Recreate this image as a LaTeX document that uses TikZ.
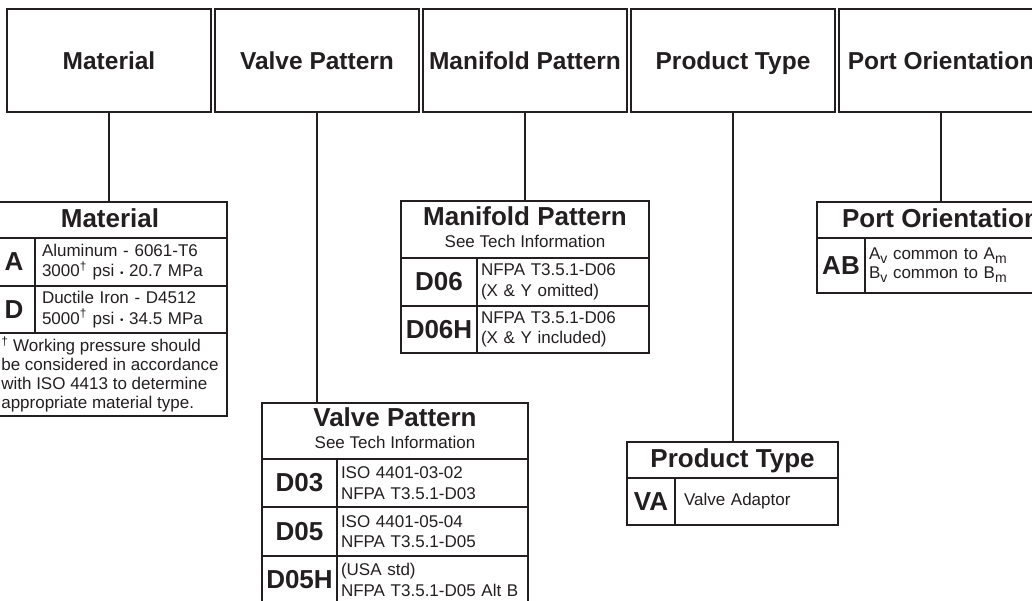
\documentclass[tikz,border=0pt]{standalone}
\usepackage{fontspec}
\setmainfont{Liberation Sans}
\usetikzlibrary{positioning}
\usetikzlibrary{fit}
\definecolor{ink}{HTML}{231F20}
\newcommand{\psidot}{{\fontsize{10}{10}\selectfont\raisebox{0.6pt}{•}}}
\newcommand{\subline}[1]{{\normalfont\fontsize{17}{20}\selectfont #1}}
\newcommand{\portsub}[1]{\raisebox{-4pt}{\fontsize{14}{14}\selectfont #1}}
\tikzset{
	x=1pt, y=-1pt,
	every node/.append style={align=center, text=ink, outer sep=0pt},
	topbox/.style={draw=ink,
		    line width=2.5pt,
		    minimum width=204pt,
		    minimum height=103pt,
		    inner sep=0pt,
		    text height=18pt,
		    text depth=0pt,
		    font=\fontsize{24.5}{29}\selectfont\bfseries},
	subheadcell/.style={draw=ink,
		    line width=2.5pt,
		    minimum height=36pt,
		    inner sep=0pt,
		    font=\fontsize{26}{30}\selectfont\bfseries},
	headcell/.style={subheadcell, text height=19pt, text depth=5pt},
	tablecell/.style={draw=ink, line width=1.3pt, minimum height=48pt, inner sep=0pt},
	codecell/.style={tablecell, font=\fontsize{26}{30}\selectfont\bfseries},
	desccell/.style={tablecell, align=left, inner xsep=4pt, font=\fontsize{17}{20.5}\selectfont},
	tableframe/.style={draw=ink, line width=2.5pt, inner sep=0pt},
	stem/.style={draw=ink, line width=2pt}
}
\begin{document}
\begin{tikzpicture}

	\useasboundingbox (0,0) rectangle (1032,600);
	\clip (0,0) rectangle (1032,600);

	\node [topbox] (matTop) at (109,60.5) {Material};
	\node [topbox, right=4pt of matTop] (vpTop) {Valve Pattern};
	\node [topbox, right=4pt of vpTop] (mpTop) {Manifold Pattern};
	\node [topbox, right=4pt of mpTop] (ptTop) {Product Type};
	\node [topbox, right=4pt of ptTop] (poTop) {Port Orientation};

	\node [headcell, minimum width=234pt] (matHead) at (110,220) {Material};
	\node [codecell, minimum width=42pt, below right=0pt of matHead.south west] (matA) {A};
	\node [desccell, text width=178pt, inner xsep=7pt, right=0pt of matA] (matADesc) {Aluminum - 6061-T6\\3000\textsuperscript{†} psi \psidot{} 20.7 MPa};
	\node [codecell, minimum width=42pt, minimum height=47pt, below=0pt of matA] (matD) {D};
	\node [desccell, text width=178pt, inner xsep=7pt, minimum height=47pt, right=0pt of matD] (matDDesc) {Ductile Iron - D4512\\5000\textsuperscript{†} psi \psidot{} 34.5 MPa};
	\node [tablecell, align=left, minimum width=234pt, minimum height=83pt, font=\fontsize{17}{18.8}\selectfont, below right=0pt of matD.south west] (matNote) {\textsuperscript{†} Working pressure should\\be considered in accordance\\with ISO 4413 to determine\\appropriate material type.};
	\node [tableframe, fit=(matHead)(matNote)] (matFrame) {};

	\node [subheadcell, minimum width=266pt, minimum height=56pt, text depth=5pt] (vpHead) at (395,431) {Valve Pattern\\[-8pt]\subline{See Tech Information}};
	\node [codecell, minimum width=75pt, below right=0pt of vpHead.south west] (vpD03) {D03};
	\node [desccell, text width=183pt, right=0pt of vpD03] (vpD03Desc) {ISO 4401-03-02\\NFPA T3.5.1-D03};
	\node [codecell, minimum width=75pt, minimum height=49pt, below=0pt of vpD03] (vpD05) {D05};
	\node [desccell, text width=183pt, minimum height=49pt, right=0pt of vpD05] (vpD05Desc) {ISO 4401-05-04\\NFPA T3.5.1-D05};
	\node [codecell, minimum width=75pt, below=0pt of vpD05] (vpD05H) {D05H};
	\node [desccell, text width=183pt, right=0pt of vpD05H] (vpD05HDesc) {(USA std)\\NFPA T3.5.1-D05 Alt B};
	\node [tableframe, fit=(vpHead)(vpD05HDesc)] (vpFrame) {};

	\node [subheadcell, minimum width=248pt, minimum height=57pt, text depth=5pt] (mpHead) at (525,229.5) {Manifold Pattern\\[-8pt]\subline{See Tech Information}};
	\node [codecell, minimum width=76pt, below right=0pt of mpHead.south west] (mpD06) {D06};
	\node [desccell, text width=164pt, right=0pt of mpD06] (mpD06Desc) {NFPA T3.5.1-D06\\(X \& Y omitted)};
	\node [codecell, minimum width=76pt, minimum height=47pt, below=0pt of mpD06] (mpD06H) {D06H};
	\node [desccell, text width=164pt, minimum height=47pt, right=0pt of mpD06H] (mpD06HDesc) {NFPA T3.5.1-D06\\(X \& Y included)};
	\node [tableframe, fit=(mpHead)(mpD06HDesc)] (mpFrame) {};

	\node [headcell, minimum width=211pt] (ptHead) at (732.5,460) {Product Type};
	\node [codecell, minimum width=48pt, minimum height=47pt, below right=0pt of ptHead.south west] (ptVA) {VA};
	\node [desccell, text width=145pt, inner xsep=9pt, minimum height=47pt, right=0pt of ptVA] (ptVADesc) {Valve Adaptor};
	\node [tableframe, fit=(ptHead)(ptVADesc)] (ptFrame) {};

	\node [headcell, minimum width=248pt] (poHead) at (941,220) {Port Orientation};
	\node [codecell, minimum width=48pt, minimum height=55pt, below right=0pt of poHead.south west] (poAB) {AB};
	\node [desccell, text width=192pt, minimum height=55pt, right=0pt of poAB, font=\fontsize{17}{19}\selectfont] (poABDesc) {A\portsub{v} common to A\portsub{m}\\B\portsub{v} common to B\portsub{m}};
	\node [tableframe, fit=(poHead)(poABDesc)] (poFrame) {};

	\draw [stem] (matTop.south) -- (matTop.south |- matHead.north);
	\draw [stem] (vpTop.south) -- (vpTop.south |- vpHead.north);
	\draw [stem] (mpTop.south) -- (mpTop.south |- mpHead.north);
	\draw [stem] (ptTop.south) -- (ptTop.south |- ptHead.north);
	\draw [stem] (poTop.south) -- (poTop.south |- poHead.north);

\end{tikzpicture}
\end{document}
